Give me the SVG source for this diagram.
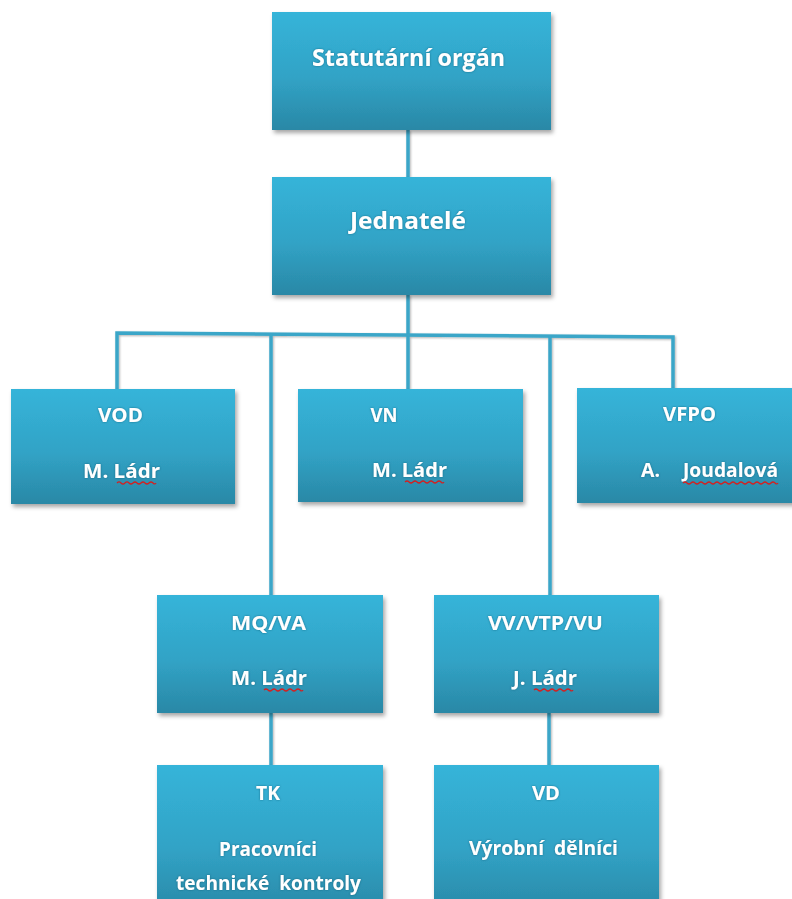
<svg xmlns="http://www.w3.org/2000/svg" width="792" height="899" viewBox="0 0 792 899">
<defs>
<linearGradient id="g" x1="0" y1="0" x2="0" y2="1">
<stop offset="0" stop-color="#36b4d9"/>
<stop offset="0.55" stop-color="#31a3c6"/>
<stop offset="1" stop-color="#2a88a6"/>
</linearGradient>
<filter id="sh" x="-10%" y="-10%" width="125%" height="130%">
<feDropShadow dx="2" dy="3" stdDeviation="2" flood-color="#000" flood-opacity="0.35"/>
</filter>
<filter id="ls" x="-50%" y="-50%" width="200%" height="200%">
<feDropShadow dx="1" dy="1" stdDeviation="0.8" flood-color="#000" flood-opacity="0.3"/>
</filter>
<filter id="ts" x="-10%" y="-30%" width="120%" height="160%">
<feDropShadow dx="0" dy="0" stdDeviation="0.8" flood-color="#0a4a60" flood-opacity="0.6"/>
</filter>
</defs>
<style>
.box{fill:url(#g);filter:url(#sh)}
.t{font-family:"Open Sans","Noto Sans","DejaVu Sans",sans-serif;font-weight:bold;fill:#fff;filter:url(#ts)}
.big{font-size:24px}
.sm{font-size:19.5px}
.c{fill:none;stroke:#3aa6c8;stroke-width:3.5;stroke-linejoin:miter}
.sp{fill:none;stroke:#d42020;stroke-width:1.2}
</style>
<rect width="792" height="899" fill="#fff"/>
<g id="connectors" filter="url(#ls)">
<path class="c" d="M408 130 V177"/>
<path class="c" d="M408 295 V389"/>
<path class="c" d="M117 389 V333 L673 337 V389"/>
<path class="c" d="M271 334 V595"/>
<path class="c" d="M550 336 V595"/>
<path class="c" d="M271 713 V765"/>
<path class="c" d="M549 713 V765"/>
</g>
<g id="statutarni">
<rect class="box" x="272" y="12" width="279" height="118"/>
<text class="t big" x="408.5" y="66" text-anchor="middle" textLength="193" lengthAdjust="spacingAndGlyphs">Statutární orgán</text>
</g>
<g id="jednatele">
<rect class="box" x="272" y="177" width="279" height="118"/>
<text class="t big" x="408" y="229" text-anchor="middle" textLength="116" lengthAdjust="spacingAndGlyphs">Jednatelé</text>
</g>
<g id="vod">
<rect class="box" x="11" y="389" width="224" height="115"/>
<text class="t sm" x="120.5" y="422" text-anchor="middle" textLength="45" lengthAdjust="spacingAndGlyphs">VOD</text>
<text class="t sm" x="121.5" y="478" text-anchor="middle" textLength="77" lengthAdjust="spacingAndGlyphs">M. Ládr</text>
<path class="sp" d="M117 483 q2 -2 4 0 t4 0 t4 0 t4 0 t4 0 t4 0 t4 0 t4 0 t4 0 t3 0"/>
</g>
<g id="vn">
<rect class="box" x="298" y="389" width="225" height="113"/>
<text class="t sm" x="384" y="422" text-anchor="middle" textLength="27" lengthAdjust="spacingAndGlyphs">VN</text>
<text class="t sm" x="409.5" y="477" text-anchor="middle" textLength="75" lengthAdjust="spacingAndGlyphs">M. Ládr</text>
<path class="sp" d="M405 482 q2 -2 4 0 t4 0 t4 0 t4 0 t4 0 t4 0 t4 0 t4 0 t4 0 t3 0"/>
</g>
<g id="vfpo">
<rect class="box" x="577" y="388" width="225" height="115"/>
<text class="t sm" x="689.5" y="421" text-anchor="middle" textLength="53" lengthAdjust="spacingAndGlyphs">VFPO</text>
<text class="t sm" x="641" y="477" textLength="19" lengthAdjust="spacingAndGlyphs">A.</text>
<text class="t sm" x="683" y="477" textLength="95" lengthAdjust="spacingAndGlyphs">Joudalová</text>
<path class="sp" d="M683 483 q2 -2 4 0 t4 0 t4 0 t4 0 t4 0 t4 0 t4 0 t4 0 t4 0 t4 0 t4 0 t4 0 t4 0 t4 0 t4 0 t4 0 t4 0 t4 0 t4 0 t4 0 t4 0 t4 0 t4 0 t3 0"/>
</g>
<g id="mqva">
<rect class="box" x="157" y="595" width="226" height="118"/>
<text class="t sm" x="268.5" y="630" text-anchor="middle" textLength="75" lengthAdjust="spacingAndGlyphs">MQ/VA</text>
<text class="t sm" x="269" y="685" text-anchor="middle" textLength="76" lengthAdjust="spacingAndGlyphs">M. Ládr</text>
<path class="sp" d="M264 690 q2 -2 4 0 t4 0 t4 0 t4 0 t4 0 t4 0 t4 0 t4 0 t4 0 t3 0"/>
</g>
<g id="vvvtpvu">
<rect class="box" x="434" y="595" width="225" height="118"/>
<text class="t sm" x="545.5" y="630" text-anchor="middle" textLength="115" lengthAdjust="spacingAndGlyphs">VV/VTP/VU</text>
<text class="t sm" x="545" y="685" text-anchor="middle" textLength="64" lengthAdjust="spacingAndGlyphs">J. Ládr</text>
<path class="sp" d="M534 690 q2 -2 4 0 t4 0 t4 0 t4 0 t4 0 t4 0 t4 0 t4 0 t4 0 t3 0"/>
</g>
<g id="tk">
<rect class="box" x="157" y="765" width="226" height="150"/>
<text class="t sm" x="268" y="800" text-anchor="middle" textLength="24" lengthAdjust="spacingAndGlyphs">TK</text>
<text class="t sm" x="268" y="856" text-anchor="middle" textLength="98" lengthAdjust="spacingAndGlyphs">Pracovníci</text>
<text class="t sm" x="268.5" y="890" text-anchor="middle" textLength="185" lengthAdjust="spacingAndGlyphs" xml:space="preserve">technické  kontroly</text>
</g>
<g id="vd">
<rect class="box" x="434" y="765" width="225" height="150"/>
<text class="t sm" x="546" y="800" text-anchor="middle" textLength="28" lengthAdjust="spacingAndGlyphs">VD</text>
<text class="t sm" x="543.5" y="855" text-anchor="middle" textLength="149" lengthAdjust="spacingAndGlyphs" xml:space="preserve">Výrobní  dělníci</text>
</g>
</svg>
